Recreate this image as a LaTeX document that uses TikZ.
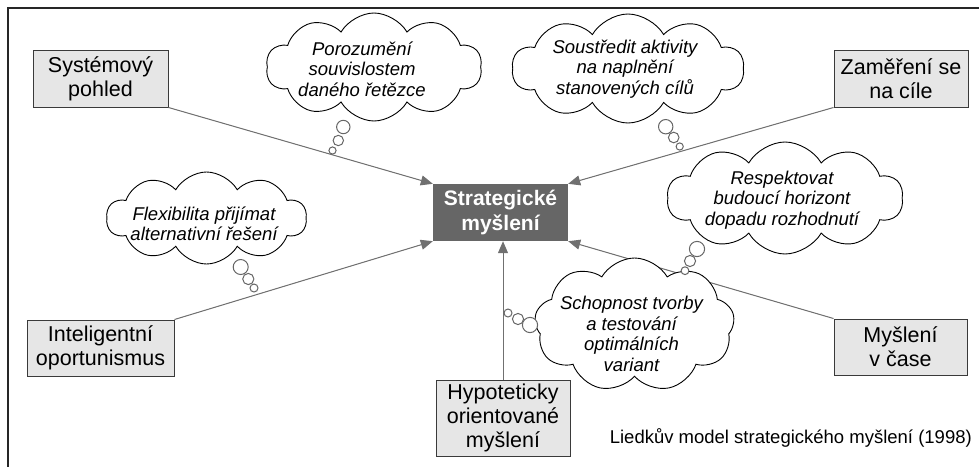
\documentclass[tikz,border=0pt]{standalone}
\usepackage{fontspec}
\setmainfont{Liberation Sans}
\usetikzlibrary{shapes.symbols,arrows.meta}
\definecolor{boxfill}{HTML}{E6E6E6}
\definecolor{boxline}{HTML}{3A3A3A}
\definecolor{midfill}{HTML}{666666}
\definecolor{arrgray}{HTML}{707070}
\definecolor{bubgray}{HTML}{666666}
\begin{document}
\begin{tikzpicture}[x=1pt,y=-1pt,
  box/.style={draw=boxline, fill=boxfill, line width=1pt, align=center, inner sep=0pt,
    font=\fontsize{21.5}{24}\selectfont},
  midbox/.style={fill=midfill, text=white, align=center, inner sep=0pt,
    minimum width=135, minimum height=57, font=\fontsize{21}{25}\selectfont\bfseries},
  thought/.style={cloud, cloud puffs=10, cloud puff arc=120, cloud ignores aspect,
    draw=black, line width=0.9pt, fill=white, inner sep=0pt},
  ctext/.style={align=center, inner sep=0pt, font=\fontsize{18.5}{20.5}\selectfont\itshape},
  arr/.style={draw=arrgray, line width=1pt, -{Triangle[length=12pt,width=10pt]}, fill=arrgray},
  bub/.style={draw=bubgray, line width=1pt, fill=white}]
\useasboundingbox (0,0) rectangle (979,466);
% frame
\draw[line width=1.4pt, black!85] (8,470) -- (8,8) -- (985,8);

% boxes
\node[box, minimum width=135, minimum height=57] (sys) at (100.5,78.5) {Systémový\\pohled};
\node[box, minimum width=134, minimum height=57] (zam) at (901,78.5) {Zaměření se\\na cíle};
\node[box, minimum width=147, minimum height=56] (int) at (100.5,348) {Inteligentní\\oportunismus};
\node[box, minimum width=133, minimum height=56] (cas) at (900.5,347) {Myšlení\\v čase};
\node[box, minimum width=134, minimum height=76] (hyp) at (503,418) {Hypoteticky\\orientované\\myšlení};
\node[midbox] (str) at (500.5,212.5) {Strategické\\myšlení};

% arrows
\draw[arr] (sys.south east) -- (str.north west);
\draw[arr] (zam.south west) -- (str.north east);
\draw[arr] (int.north east) -- (str.south west);
\draw[arr] (cas.north west) -- (str.south east);
\draw[arr] (hyp.north) -- (hyp.north |- str.south);

% clouds
\node[thought, minimum width=216, minimum height=108] (c1) at (374,67) {};
\node[ctext] (t1) at (362,69) {Porozumění\\souvislostem\\daného řetězce};
\node[thought, minimum width=232, minimum height=109] (c2) at (628,68.5) {};
\node[ctext] (t2) at (625,69) {Soustředit aktivity\\na naplnění\\stanovených cílů};
\node[thought, minimum width=236, minimum height=112] (c3) at (785,198) {};
\node[ctext] (t3) at (782,200) {Respektovat\\budoucí horizont\\dopadu rozhodnutí};
\node[thought, minimum width=200, minimum height=92] (c4) at (206.5,218) {};
\node[ctext] (t4) at (204,224) {Flexibilita přijímat\\alternativní řešení};
\node[thought, minimum width=200, minimum height=134, cloud puffs=9] (c5) at (634.5,325) {};
\node[ctext] (t5) at (631.5,334) {Schopnost tvorby\\a testování\\optimálních\\variant};

% thought bubbles
\draw[bub] (343.3,127) circle (6.7);
\draw[bub] (338.3,140.5) circle (5.2);
\draw[bub] (332.5,150.5) circle (3.6);
\draw[bub] (665.7,126.7) circle (7.2);
\draw[bub] (673.7,137.5) circle (5.3);
\draw[bub] (679.7,146.5) circle (3.6);
\draw[bub] (697,249) circle (7.6);
\draw[bub] (690,261) circle (5.6);
\draw[bub] (685,270.7) circle (3.9);
\draw[bub] (240.7,267) circle (7.5);
\draw[bub] (248.3,279) circle (5.6);
\draw[bub] (254,288) circle (4);
\draw[bub] (530,325) circle (7.6);
\draw[bub] (518,319) circle (5.6);
\draw[bub] (508,313) circle (4);

% caption
\node[anchor=base east, inner sep=0pt, font=\fontsize{18.5}{20}\selectfont] (cap) at (972,443) {Liedkův model strategického myšlení (1998)};
\end{tikzpicture}
\end{document}
